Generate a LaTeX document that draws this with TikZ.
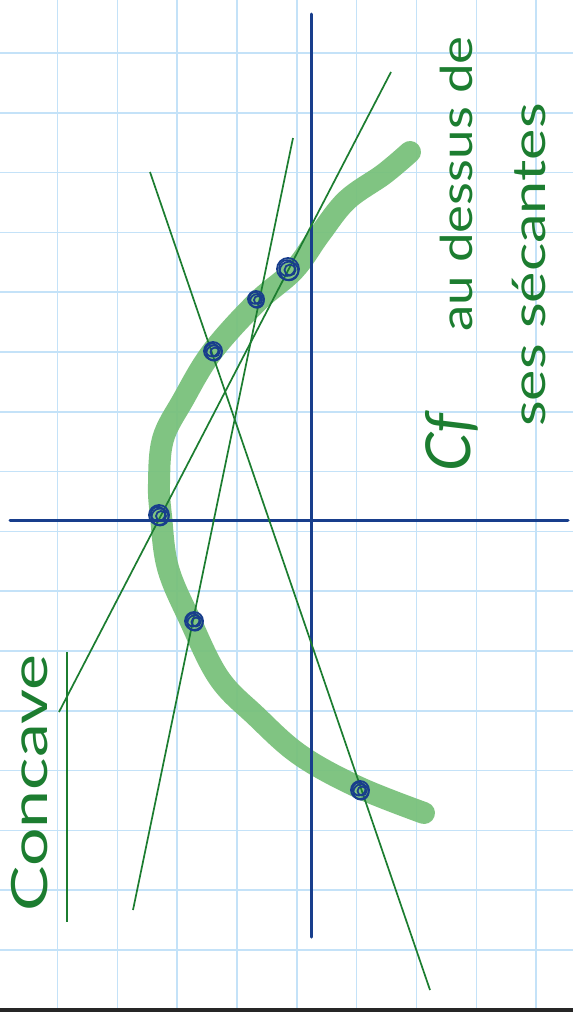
\documentclass[tikz,border=0pt]{standalone}
\usepackage{fontspec}
\newfontfamily\hand{Lato}
\definecolor{gridblue}{RGB}{196,226,248}
\definecolor{curvegreen}{RGB}{118,192,120}
\definecolor{linegreen}{RGB}{28,125,48}
\definecolor{axisblue}{RGB}{24,62,140}
\begin{document}
\begin{tikzpicture}[x=1pt,y=-1pt,
  gridline/.style={draw=gridblue,line width=1.5pt},
  courbe/.style={draw=curvegreen,line width=22pt,line cap=round,line join=round,opacity=0.92},
  axe/.style={draw=axisblue,line width=3pt},
  secante/.style={draw=linegreen,line width=1.7pt},
  griffe/.style={draw=axisblue,line width=1.8pt},
  ecrit/.style={text=linegreen,font=\hand,inner sep=0pt,rotate=90,anchor=base west}]
\useasboundingbox (0,0) rectangle (573,1012);
\fill[white] (0,0) rectangle (573,1012);
% grid
\foreach \i in {0,...,8} {\draw[gridline] ({57.4+59.85*\i},0) -- ({57.4+59.85*\i},1012);}
\foreach \j in {0,...,15} {\draw[gridline] (0,{53+59.8*\j}) -- (573,{53+59.8*\j});}
% curve
\draw[courbe] plot[smooth,tension=0.6] coordinates {(410,152) (384,174) (347,200) (320,234) (294,270) (256,303) (212,352) (183,400) (163,439) (159,484) (161,516) (168,568) (190,620) (219,678) (256,716) (300,755) (358,787) (424,813)};
% axes
\coordinate (yt) at (311,14); \coordinate (yb) at (311,937);
\coordinate (xl) at (10,520); \coordinate (xr) at (568,520);
\draw[axe,line cap=round] (yt) -- (yb);
\draw[axe,line cap=round] (xl) -- (xr);
% secants
\coordinate (a1) at (59,712); \coordinate (a2) at (391,72);
\coordinate (b1) at (150,172); \coordinate (b2) at (430,990);
\coordinate (c1) at (133,910); \coordinate (c2) at (293,138);
\coordinate (u1) at (67,652); \coordinate (u2) at (67,922);
\draw[secante] (a1) -- (a2);
\draw[secante] (b1) -- (b2);
\draw[secante] (c1) -- (c2);
\draw[secante] (u1) -- (u2);
% scribbles
\foreach \p/\r in {{(159,515)}/10, {(213,351)}/9, {(256,299)}/8, {(288,269)}/11, {(194,621)}/9, {(360,790)}/9} {
  \draw[griffe] \p circle (\r);
  \draw[griffe] \p ++(2,1) circle ({\r*0.5});
  \draw[griffe] \p ++(-1,-1) circle ({\r*0.72});
  \draw[griffe] \p ++(1,2) circle ({\r*0.85});
}
% texts
\node[ecrit,font=\hand\fontsize{50}{50}\selectfont] (concave) at (47,912) {\scalebox{1.36}[1]{Concave}};
\node[ecrit,font=\hand\itshape\fontsize{62}{62}\selectfont] (cf) at (470,472) {Cf};
\node[ecrit,font=\hand\fontsize{44}{44}\selectfont] (l1) at (472,332) {\scalebox{1.2}[1]{au dessus de}};
\node[ecrit,font=\hand\fontsize{46}{46}\selectfont] (l2) at (545,427) {\scalebox{1.29}[1]{ses sécantes}};
% bottom edge
\fill[black!85] (0,1008) rectangle (573,1012);
\end{tikzpicture}
\end{document}
